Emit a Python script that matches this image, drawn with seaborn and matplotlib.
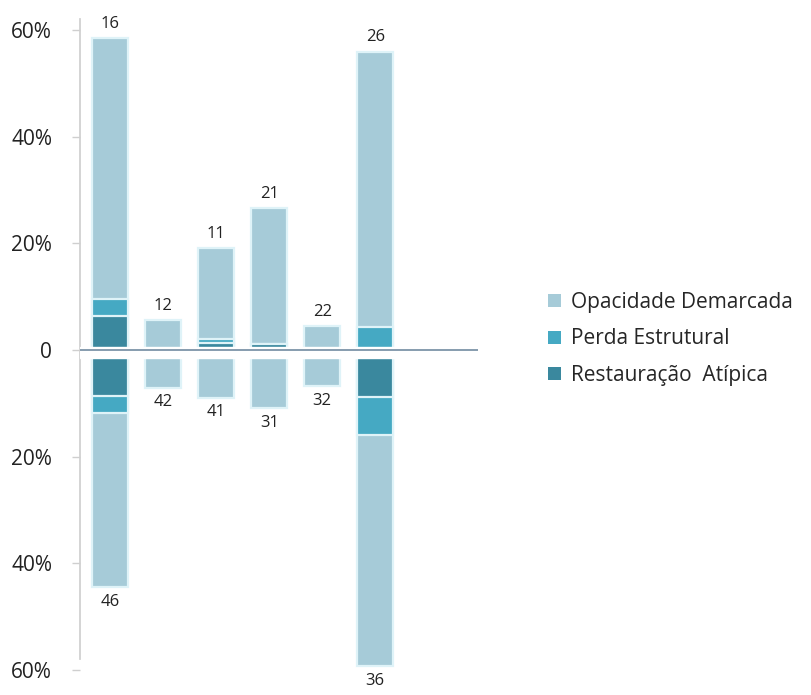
import numpy as np
import pandas as pd
import matplotlib.pyplot as plt
import seaborn as sns
from matplotlib.patches import Patch

# data (percent of each group)
groups = ["G1", "G2", "G3", "G4", "G5", "G6"]
top_counts = [16, 12, 11, 21, 22, 26]
bottom_counts = [46, 42, 41, 31, 32, 36]

# upper half (stacked from the zero line up)
up_restauracao = [6.4, 0.0, 1.3, 1.2, 0.0, 0.0]
up_perda = [3.2, 0.0, 0.8, 0.0, 0.0, 4.3]
up_opacidade = [48.9, 5.6, 17.0, 25.4, 4.5, 51.6]

# lower half (stacked from the zero line down)
down_restauracao = [8.6, 0.0, 0.0, 0.0, 0.0, 8.8]
down_perda = [3.2, 0.0, 0.0, 0.0, 0.0, 7.1]
down_opacidade = [32.7, 7.1, 9.0, 10.9, 6.8, 43.4]

series_names = ["Opacidade Demarcada", "Perda Estrutural", "Restauração  Atípica"]
colors = ["#a6cbd8", "#45a9c3", "#3a889e"]

sns.set_theme(style="white")
plt.rcParams['font.family'] = ['Open Sans', 'DejaVu Sans']

fig = plt.figure(figsize=(8.11, 6.95), dpi=100)
ax = fig.add_axes([80 / 811, 25 / 695, 398 / 811, 640 / 695])

# cumulative heights, drawn tallest first so the shorter layers sit on top
up = pd.DataFrame({"r": up_restauracao, "p": up_perda, "o": up_opacidade}, index=groups)
down = pd.DataFrame({"r": down_restauracao, "p": down_perda, "o": down_opacidade}, index=groups)
up_cum = up.cumsum(axis=1)
down_cum = -down.cumsum(axis=1)

layers = [("o", colors[0]), ("p", colors[1]), ("r", colors[2])]
for col, c in layers:
    for cum in (up_cum, down_cum):
        sns.barplot(x=groups, y=cum[col].values, color=c, saturation=1, width=0.68,
                    edgecolor="#dff3f8", linewidth=1.6, ax=ax, zorder=2)

# small white gap around the zero line, then the line itself
ax.axhspan(-1.5, 0.5, color="white", zorder=3)
ax.axhline(0, color="#7d94a8", lw=1.3, zorder=4)

# count labels
for i in range(len(groups)):
    ax.text(i, up_cum["o"].iloc[i] + 1.2, str(top_counts[i]), ha="center", va="bottom",
            fontsize=12, color="#222222")
    ax.text(i, down_cum["o"].iloc[i] - 1.2, str(bottom_counts[i]), ha="center", va="top",
            fontsize=12, color="#222222")

ax.set_xlim(-0.57, 6.94)
ax.set_ylim(-60, 60)
ticks = [60, 40, 20, 0, -20, -40, -60]
ax.set_yticks(ticks)
ax.set_yticklabels(["0" if t == 0 else f"{abs(t)}%" for t in ticks], fontsize=15, color="#222222")
ax.set_xticks([])

sns.despine(ax=ax, top=True, right=True, bottom=True)
ax.spines["left"].set_color("#cfcfcf")
ax.spines["left"].set_bounds(-58, 62)
ax.tick_params(axis="y", direction="out", length=6, color="#cfcfcf", width=1, pad=14, left=True)

handles = [Patch(facecolor=c, edgecolor="none") for c in colors]
fig.legend(handles, series_names, loc="center left", bbox_to_anchor=(540 / 811, 1 - 339 / 695),
           frameon=False, fontsize=15, handlelength=0.6, handleheight=0.6,
           handletextpad=0.5, labelspacing=0.75, borderaxespad=0)

fig.savefig("out.png", dpi=100, facecolor="white")
